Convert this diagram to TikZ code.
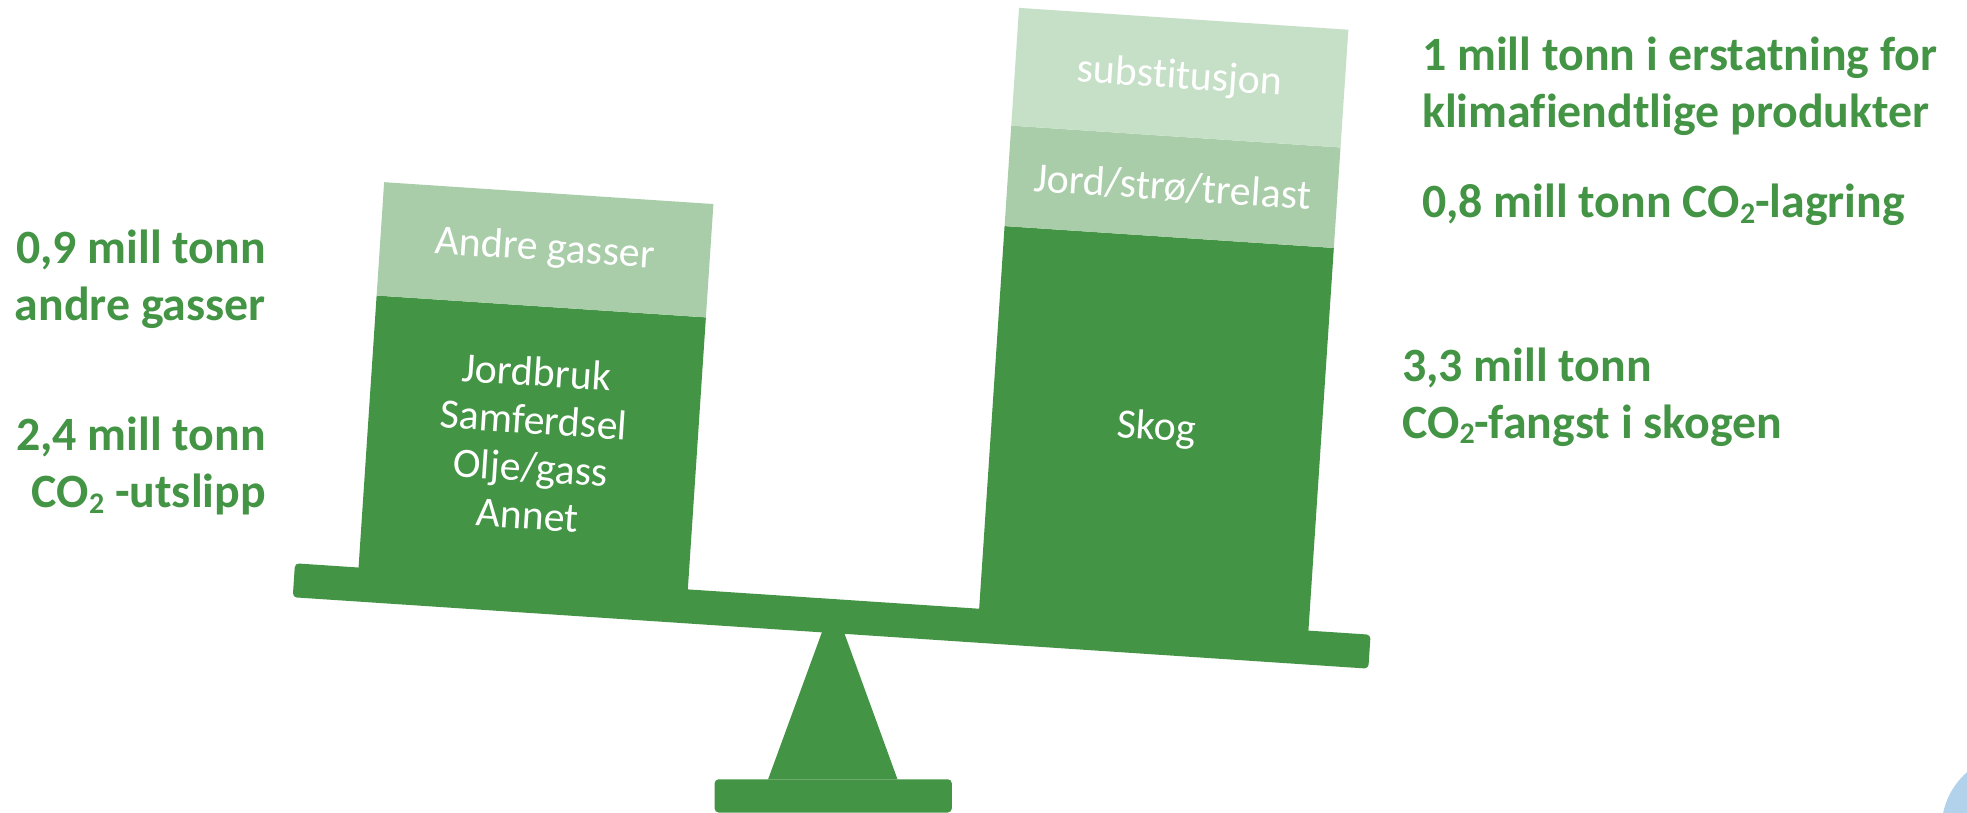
\documentclass[tikz,border=0pt]{standalone}
\usepackage{fontspec}
\setmainfont{Carlito}[Ligatures=NoCommon]
\definecolor{dkgreen}{RGB}{67,148,68}
\definecolor{mdgreen}{RGB}{169,205,169}
\definecolor{ltgreen}{RGB}{198,223,199}
\definecolor{globeblue}{RGB}{178,210,236}
\newcommand\subtwo{\raisebox{-0.12em}{\fontsize{30}{30}\selectfont 2}}
\begin{document}
\begin{tikzpicture}[x=1bp,y=-1bp,
  band/.style={inner sep=0pt, minimum width=330bp, text=white, align=center,
    anchor=south west, font=\fontsize{42}{48}\selectfont},
  sidetext/.style={text=dkgreen, inner sep=0pt, font=\bfseries\fontsize{48}{57}\selectfont}]
\useasboundingbox (0,0) rectangle (1967,813);
\fill[white] (0,0) rectangle (1967,813);

% corner of a cut-off picture
\begin{scope}
  \clip (0,0) rectangle (1967,813);
  \fill[globeblue] (2016.5,828.5) circle (75);
\end{scope}

% stand
\fill[dkgreen] (768.1,779.3) -- (833,602) -- (897.5,779.3) -- cycle;
\fill[dkgreen, rounded corners=4bp] (714.6,779.3) rectangle (951.8,812.5);

% beam and boxes (tilted)
\begin{scope}[shift={(295,563.3)}, rotate=-3.8, transform shape]
  \node[band, fill=dkgreen, minimum height=274.4bp] (a2) at (63.5,2) {Jordbruk\\Samferdsel\\Olje/gass\\Annet};
  \node[band, fill=mdgreen, minimum height=113.6bp] (a1) at (63.5,-272.4) {Andre gasser};
  \node[band, fill=dkgreen, minimum height=385.3bp] (b3) at (685.5,2) {Skog};
  \node[band, fill=mdgreen, minimum height=100.7bp] (b2) at (685.5,-383.3) {Jord/strø/trelast};
  \node[band, fill=ltgreen, minimum height=118bp] (b1) at (685.5,-484) {\raisebox{-5bp}{substitusjon}};
  \fill[dkgreen, rounded corners=4bp] (0,0) rectangle (1078,34);
\end{scope}

% side texts
\node[sidetext, align=right, anchor=east] (l1) at (266,279) {0,9 mill tonn\\andre gasser};
\node[sidetext, align=right, anchor=east] (l2) at (266,466) {2,4 mill tonn\\CO\subtwo{} -utslipp};
\node[sidetext, align=left, anchor=west] (r1) at (1422,86) {1 mill tonn i erstatning for\\klimafiendtlige produkter};
\node[sidetext, align=left, anchor=west] (r2) at (1422,204.6) {0,8 mill tonn CO\subtwo-lagring};
\node[sidetext, align=left, anchor=west] (r3) at (1402,397) {3,3 mill tonn\\CO\subtwo-fangst i skogen};
\end{tikzpicture}
\end{document}
